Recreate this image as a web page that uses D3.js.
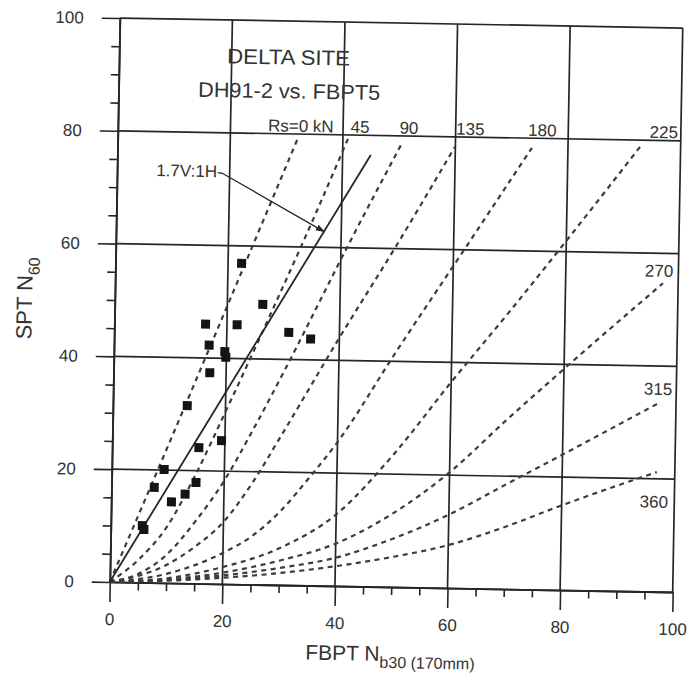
<!DOCTYPE html>
<html><head><meta charset="utf-8">
<script src="https://cdn.jsdelivr.net/npm/d3@7"></script>
<style>
body{margin:0;background:#fff}
svg{display:block}
text{font-family:"Liberation Sans",Arial,sans-serif;fill:#333}
</style>
</head><body>
<svg id="chart" width="687" height="700"></svg>
<script>
// ---------- data ----------
const xTicks = [0, 20, 40, 60, 80, 100];
const yTicks = [0, 20, 40, 60, 80, 100];
const xMinorTicks = [5,10,15,25,30,35,45,50,55,65,70,75,85,90,95];
const yMinorTicks = [5,10,15,25,30,35,45,50,55,65,70,75,85,90,95];
const gridValues = [20, 40, 60, 80, 100];

// measured points: FBPT Nb30 (x) vs SPT N60 (y)
const pointX = [22.4, 26.3, 16.2, 21.8, 31.0, 34.9, 16.9, 19.7, 19.9, 17.1, 13.2, 19.4, 15.4, 9.3, 7.6, 15.0, 13.1, 10.7, 5.6, 5.9];
const pointY = [56.9, 49.7, 46.0, 46.0, 44.8, 43.7, 42.3, 41.2, 40.2, 37.4, 31.5, 25.4, 24.1, 20.1, 16.9, 17.9, 15.8, 14.4, 10.1, 9.4];

// correlation curves for shaft friction Rs (kN), [Nb30, N60]
const rsNames = ["Rs=0 kN", "45", "90", "135", "180", "225", "270", "315", "360"];
const rs0   = [[0,0],[10,24.5],[20,49.3],[31.9,79]];
const rs45  = [[0,0],[5,4],[10,10],[15,19.5],[20,30.5],[28.8,50.5],[35,65],[40.9,79.3]];
const rs90  = [[0,0],[5,1.5],[10,5],[15,11],[20,18.3],[25,27.5],[30.7,38.7],[41.1,60.1],[50.5,78.7]];
const rs135 = [[0,0],[10,3.2],[15,6.5],[20,11],[25,18],[30,26.5],[40,44],[50,60.8],[59.9,78.2]];
const rs180 = [[0,0],[10,1.6],[20,5.5],[25,8.5],[30,13],[35,19],[40,25.5],[50,41.5],[62.4,60.8],[73.6,78.3]];
const rs225 = [[0,0],[10,0.8],[20,3],[30,6.5],[40,12.7],[50,23.5],[60,36.5],[70,49],[79,60.6],[92.8,78.8]];
const rs270 = [[0,0],[10,0.6],[20,2],[30,4.3],[40,7.5],[50,13],[60,20.5],[70,30],[80,39.2],[97.3,54.7]];
const rs315 = [[0,0],[10,0.5],[20,1.5],[30,3],[40,5],[50,8.5],[60,13],[70,18.5],[80,24],[97.2,33.6]];
const rs360 = [[0,0],[10,0.4],[20,1.1],[30,2.1],[40,3.5],[50,5.3],[60,7.6],[70,11],[80,15],[96.8,21.2]];
const rsCurves = [rs0, rs45, rs90, rs135, rs180, rs225, rs270, rs315, rs360];

// 1.7V:1H reference line
const slopeLine = [[0,0],[45,76.5]];

// ---------- layout ----------
const W = 687, H = 700;
const mLeft = 114.75, mRight = 677.75, mTop = 23, mBottom = 587;
const ink = "#262626";

const x = d3.scaleLinear().domain([0,100]).range([mLeft,mRight]);
const y = d3.scaleLinear().domain([0,100]).range([mBottom,mTop]);

const svg = d3.select("#chart");
svg.append("rect").attr("width",W).attr("height",H).attr("fill","#fff");
const defs = svg.append("defs");
defs.append("marker").attr("id","arr").attr("viewBox","0 0 10 10")
  .attr("refX",10).attr("refY",5).attr("markerWidth",7).attr("markerHeight",7)
  .attr("orient","auto")
  .append("path").attr("d","M0,1.5 L10,5 L0,8.5 z").attr("fill",ink);

// the scanned figure is slightly rotated
const g = svg.append("g")
  .attr("transform",`rotate(1.02,${(mLeft+mRight)/2},${(mTop+mBottom)/2})`);

// grid + frame
g.append("g").selectAll("line").data(gridValues).join("line")
  .attr("x1",x(0)).attr("x2",x(100))
  .attr("y1",d=>y(d)).attr("y2",d=>y(d))
  .attr("stroke",ink).attr("stroke-width",1.7);
g.append("g").selectAll("line").data(gridValues).join("line")
  .attr("y1",y(0)).attr("y2",y(100))
  .attr("x1",d=>x(d)).attr("x2",d=>x(d))
  .attr("stroke",ink).attr("stroke-width",1.7);

function styleAxis(sel){
  sel.attr("font-family",null).attr("font-size",null);
  sel.select(".domain").attr("stroke",ink).attr("stroke-width",1.8);
  sel.selectAll(".tick line").attr("stroke",ink).attr("stroke-width",1.6);
  sel.selectAll(".tick text").attr("fill","#333").style("font-size","17px");
}

g.append("g").attr("transform",`translate(0,${mBottom})`)
  .call(d3.axisBottom(x).tickValues(xMinorTicks).tickSize(8).tickFormat("").tickSizeOuter(0))
  .call(styleAxis);
g.append("g").attr("transform",`translate(0,${mBottom})`)
  .call(d3.axisBottom(x).tickValues(xTicks).tickSize(20).tickPadding(11).tickSizeOuter(0).tickFormat(d3.format("d")))
  .call(styleAxis);
g.append("g").attr("transform",`translate(${mLeft},0)`)
  .call(d3.axisLeft(y).tickValues(yMinorTicks).tickSize(8).tickFormat("").tickSizeOuter(0))
  .call(styleAxis);
g.append("g").attr("transform",`translate(${mLeft},0)`)
  .call(d3.axisLeft(y).tickValues(yTicks).tickSize(18).tickPadding(18).tickSizeOuter(0).tickFormat(d3.format("d")))
  .call(styleAxis);

// dashed Rs curves
const line = d3.line().x(d=>x(d[0])).y(d=>y(d[1])).curve(d3.curveMonotoneX);
g.append("g").selectAll("path").data(rsCurves).join("path")
  .attr("d",line)
  .attr("fill","none")
  .attr("stroke","#3c3c3c")
  .attr("stroke-width",2.2)
  .attr("stroke-dasharray","5,4.5");

// 1.7V:1H solid line
g.append("path").datum(slopeLine)
  .attr("d",d3.line().x(d=>x(d[0])).y(d=>y(d[1])))
  .attr("fill","none").attr("stroke",ink).attr("stroke-width",1.8);

// data squares
const pts = d3.zip(pointX, pointY);
g.append("g").selectAll("rect").data(pts).join("rect")
  .attr("x",d=>x(d[0])-4.5).attr("y",d=>y(d[1])-4.5)
  .attr("width",9).attr("height",9)
  .attr("fill","#141414");

// Rs labels
const topLabelX = [32.5, 43.0, 51.7, 62.6, 75.4];
g.append("g").selectAll("text").data(rsNames.slice(0,5)).join("text")
  .attr("x",(d,i)=>x(topLabelX[i])).attr("y",y(80.4))
  .attr("text-anchor","middle").style("font-size","17px")
  .text(d=>d);
const rightLabelY = [80.45, 55.85, 34.9, 14.9];
const rightLabelX = [99.5, 99.1, 99.3, 98.9];
g.append("g").selectAll("text").data(rsNames.slice(5)).join("text")
  .attr("x",(d,i)=>x(rightLabelX[i])).attr("y",(d,i)=>y(rightLabelY[i]))
  .attr("text-anchor","end").style("font-size","17px")
  .text(d=>d);

// 1.7V:1H annotation with leader
g.append("text").attr("x",x(17.75)).attr("y",y(72.1))
  .attr("text-anchor","end").style("font-size","17px").text("1.7V:1H");
g.append("path")
  .attr("d",`M${x(17.9)},${y(72.9)} L${x(18.7)},${y(72.8)} L${x(37.1)},${y(62.7)}`)
  .attr("fill","none").attr("stroke",ink).attr("stroke-width",1.3)
  .attr("marker-end","url(#arr)");

// chart title
g.append("text").attr("x",x(30.1)).attr("y",y(92.3))
  .attr("text-anchor","middle").style("font-size","21px")
  .attr("textLength",123).attr("lengthAdjust","spacingAndGlyphs")
  .text("DELTA SITE");
g.append("text").attr("x",x(30.3)).attr("y",y(86.3))
  .attr("text-anchor","middle").style("font-size","21px")
  .attr("textLength",182).attr("lengthAdjust","spacingAndGlyphs")
  .text("DH91-2 vs. FBPT5");

// axis titles
const xt = g.append("text").attr("x",(mLeft+mRight)/2).attr("y",mBottom+74)
  .attr("text-anchor","middle").style("font-size","21px");
xt.append("tspan").text("FBPT N");
xt.append("tspan").attr("dy",7).style("font-size","16px").text("b30 (170mm)");

const yt = g.append("text")
  .attr("transform",`translate(32,${(mTop+mBottom)/2}) rotate(-90)`)
  .attr("text-anchor","middle").style("font-size","22px");
yt.append("tspan").text("SPT N");
yt.append("tspan").attr("dy",7).style("font-size","16px").text("60");
</script>
</body></html>
